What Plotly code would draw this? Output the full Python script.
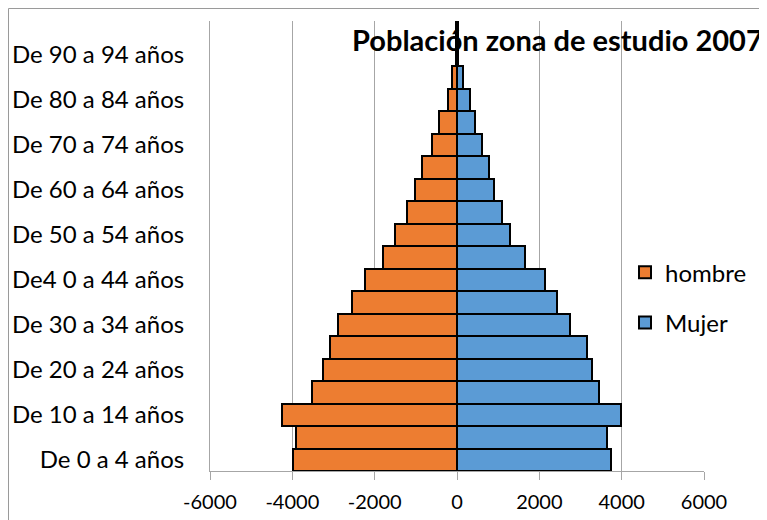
import plotly.graph_objects as go
import numpy as np

categorias = [
    "De 0 a 4 años", "De 5 a 9 años", "De 10 a 14 años", "De 15 a 19 años",
    "De 20 a 24 años", "De 25 a 29 años", "De 30 a 34 años", "De 35 a 39 años",
    "De4 0 a 44 años", "De 45 a 49 años", "De 50 a 54 años", "De 55 a 59 años",
    "De 60 a 64 años", "De 65 a 69 años", "De 70 a 74 años", "De 75 a 79 años",
    "De 80 a 84 años", "De 85 a 89 años", "De 90 a 94 años", "De 95 a 99 años",
]
hombre = [-3984, -3911, -4259, -3530, -3247, -3093, -2899, -2559, -2227, -1806,
          -1506, -1223, -1012, -850, -607, -445, -210, -130, -25, -15]
mujer = [3748, 3650, 3984, 3439, 3268, 3154, 2748, 2439, 2146, 1642,
         1276, 1085, 907, 769, 599, 445, 308, 154, 25, 15]
x_ticks = [-6000, -4000, -2000, 0, 2000, 4000, 6000]
x_ticktext = ["-6000", "-4000", "-2000", "0", "2000", "4000", "6000"]
titulo = "Población zona de estudio 2007"

FONT = "Lato"
GRID = "#a6a6a6"

# page has an 8px body margin; figure coordinates are offset accordingly
W, H = 759, 512
L, T, R, B = 202, 13, 63, 49
PW, PH = W - L - R, H - T - B

fig = go.Figure()
fig.add_trace(go.Bar(y=categorias, x=hombre, orientation="h", name="hombre",
                     legendgroup="h",
                     marker=dict(color="#ED7D31", line=dict(color="black", width=2))))
fig.add_trace(go.Bar(y=categorias, x=mujer, orientation="h", name="Mujer",
                     legendgroup="m",
                     marker=dict(color="#5B9BD5", line=dict(color="black", width=2))))

n = len(categorias)
fig.update_layout(
    width=W, height=H,
    margin=dict(l=L, r=R, t=T, b=B, autoexpand=False),
    paper_bgcolor="white", plot_bgcolor="white",
    barmode="relative", bargap=0,
    font=dict(family=FONT, size=20, color="black"),
    xaxis=dict(range=[-6000, 6000], tickvals=x_ticks, ticktext=x_ticktext,
               showgrid=True, gridcolor=GRID,
               gridwidth=1, zeroline=False, showline=True, linecolor=GRID,
               ticks="outside", ticklen=8, tickcolor=GRID, automargin=False,
               ticklabelstandoff=5,
               tickfont=dict(family=FONT, size=20, color="black")),
    yaxis=dict(type="category", categoryorder="array", categoryarray=categorias,
               range=[-0.5, n - 0.5], tickvals=categorias[::2], showgrid=False,
               showline=True, linecolor=GRID, ticks="", ticklabelstandoff=20,
               automargin=False,
               tickfont=dict(family=FONT, size=24, color="black")),
    yaxis2=dict(overlaying="y", anchor="free", position=0.5, side="left",
                range=[-0.5, n - 0.5], tickvals=list(np.arange(-0.5, n, 1.0)),
                showticklabels=False, ticks="outside", ticklen=6, tickcolor=GRID,
                showline=True, linecolor=GRID, showgrid=False, zeroline=False,
                automargin=False),
    legend=dict(x=(617 - L) / PW, y=0.385, xanchor="left", yanchor="middle",
                traceorder="grouped", tracegroupgap=16, bgcolor="rgba(0,0,0,0)",
                font=dict(family=FONT, size=24, color="black")),
    annotations=[dict(text="<b>" + titulo + "</b>", xref="paper", yref="paper",
                      x=(757 - L) / PW, xanchor="right",
                      y=(T + PH - 31) / PH, yanchor="middle", showarrow=False,
                      font=dict(family=FONT, size=29, color="black"))],
    shapes=[dict(type="rect", xref="paper", yref="paper",
                 x0=(0.5 - L) / PW, x1=(W + 10 - L) / PW,
                 y0=-(B + 10) / PH, y1=(T + PH - 0.5) / PH,
                 line=dict(color="#9a9a9a", width=1), layer="below")],
)
fig.write_html("out.html")
